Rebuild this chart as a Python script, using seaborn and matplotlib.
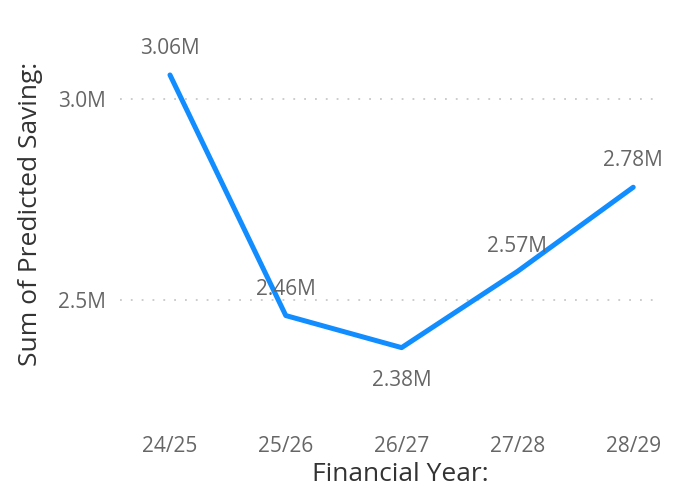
import matplotlib.pyplot as plt
import seaborn as sns
import pandas as pd
from matplotlib.ticker import FuncFormatter

# Data
years = ['24/25', '25/26', '26/27', '27/28', '28/29']
savings = [3.06, 2.46, 2.38, 2.57, 2.78]  # millions
labels = ['3.06M', '2.46M', '2.38M', '2.57M', '2.78M']

df = pd.DataFrame({'year': years, 'saving': savings})

sns.set_style('white')
plt.rcParams['font.family'] = ['Open Sans', 'DejaVu Sans']

fig = plt.figure(figsize=(6.79, 4.98), dpi=100)
ax = fig.add_axes([0.177, 0.157, 0.788, 0.773])

sns.lineplot(data=df, x='year', y='saving', ax=ax, color='#118DFF',
             linewidth=3.6, sort=False)

# data labels
offsets = [(0, 19), (0, 19), (0, -24), (0, 18), (0, 19)]
for i, (v, t) in enumerate(zip(savings, labels)):
    ax.annotate(t, (i, v), xytext=offsets[i], textcoords='offset points',
                ha='center', va='center', fontsize=15, color='#666666')

ax.set_ylim(2.2, 3.16)
ax.set_xlim(-0.43, 4.19)
ax.set_yticks([2.5, 3.0])
ax.yaxis.set_major_formatter(FuncFormatter(lambda v, p: f'{v:.1f}M'))
ax.grid(axis='y', linestyle=(0, (1, 5)), color='#c8c8c8', linewidth=1.3)
ax.grid(axis='x', visible=False)
sns.despine(ax=ax, left=True, bottom=True)
ax.tick_params(axis='both', length=0, labelsize=15, labelcolor='#666666')
ax.tick_params(axis='x', pad=12)
ax.tick_params(axis='y', pad=10)

ax.set_xlabel('Financial Year:', fontsize=19, color='#333333')
ax.set_ylabel('Sum of Predicted Saving:', fontsize=19, color='#333333')
ax.xaxis.set_label_coords(0.523, -0.143)
ax.yaxis.set_label_coords(-0.168, 0.535)
ax.xaxis.label.set_va('center')
ax.yaxis.label.set_va('center')

fig.savefig('out.png', dpi=100)
